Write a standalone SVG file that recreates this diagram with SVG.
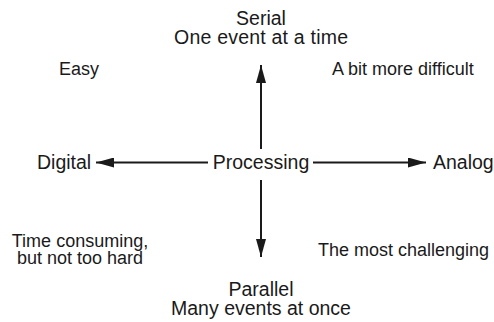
<svg xmlns="http://www.w3.org/2000/svg" width="494" height="322" viewBox="0 0 494 322">
<style>
text{font-family:"Liberation Sans",Arial,sans-serif;fill:#1a1a1a}
.m{font-size:19.5px}
.c{font-size:18px}
.l{stroke:#1a1a1a;stroke-width:2;fill:none}
</style>
<defs>
<marker id="ah" markerWidth="18" markerHeight="10" refX="18" refY="5" orient="auto" markerUnits="userSpaceOnUse">
<path d="M0,0 L18,5 L0,10 Z" fill="#1a1a1a"/>
</marker>
</defs>
<g id="connectors">
<line class="l" x1="261" y1="149" x2="261" y2="65" marker-end="url(#ah)"/>
<line class="l" x1="261" y1="180" x2="261" y2="257" marker-end="url(#ah)"/>
<line class="l" x1="208" y1="162.5" x2="96" y2="162.5" marker-end="url(#ah)"/>
<line class="l" x1="313" y1="162.5" x2="426" y2="162.5" marker-end="url(#ah)"/>
</g>
<g id="serial"><text class="m" x="261" y="25" text-anchor="middle">Serial</text><text class="m" x="261" y="44" text-anchor="middle" textLength="174">One event at a time</text></g>
<g id="easy"><text class="c" x="59" y="75">Easy</text></g>
<g id="difficult"><text class="c" x="332" y="75">A bit more difficult</text></g>
<g id="digital"><text class="m" x="37" y="169">Digital</text></g>
<g id="processing"><text class="m" x="261" y="169" text-anchor="middle">Processing</text></g>
<g id="analog"><text class="m" x="433" y="169">Analog</text></g>
<g id="timeconsuming"><text class="c" x="80" y="247" text-anchor="middle">Time consuming,</text><text class="c" x="80" y="264" text-anchor="middle">but not too hard</text></g>
<g id="challenging"><text class="c" x="318" y="256">The most challenging</text></g>
<g id="parallel"><text class="m" x="261" y="296" text-anchor="middle">Parallel</text><text class="m" x="261" y="315" text-anchor="middle">Many events at once</text></g>
</svg>
